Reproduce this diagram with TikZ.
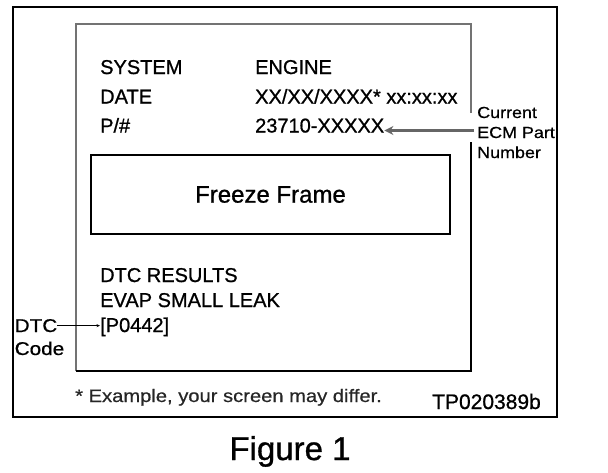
\documentclass[tikz,border=0pt]{standalone}
\usepackage{fontspec}
\setmainfont[FakeBold=0.9]{Liberation Sans}
\newfontfamily\widefont[FakeStretch=1.12,FakeBold=0.6]{Liberation Sans}
\usetikzlibrary{arrows.meta}
\tikzset{
  txt/.style={anchor=base west, inner sep=0pt, font=\fontsize{20}{24}\selectfont},
  lbl/.style={anchor=base west, inner sep=0pt, font=\widefont\fontsize{16}{19}\selectfont},
  sidelbl/.style={anchor=base west, inner sep=0pt, font=\widefont\fontsize{18.5}{22}\selectfont},
  frame/.style={draw=black, line width=2.2pt},
  thinedge/.style={draw=black!55, line width=1.1pt},
  thickedge/.style={draw=black, line width=2.4pt},
  pointer/.style={draw=black!60, line width=2.6pt, -{Stealth[length=9pt,width=9pt]}},
  leader/.style={draw=black, line width=0.6pt, -{Stealth[length=3.5pt,width=3pt]}}
}
\begin{document}
\begin{tikzpicture}[x=1pt,y=-1pt]
\useasboundingbox (0,0) rectangle (608,472);
% outer frame
\draw[frame] (12.7,7) rectangle (557,417);
% inner screen
\draw[thinedge] (471,113) -- (471,24) -- (76,24) -- (76,371);
\draw[thickedge] (76,371) -- (471,371) -- (471,142);
% rows
\node[txt] (sys) at (100,74) {SYSTEM};
\node[txt] (eng) at (255,74) {ENGINE};
\node[txt] (date) at (100,103.5) {DATE};
\node[txt] (dval) at (255,103.5) {XX/XX/XXXX* xx:xx:xx};
\node[txt] (pnl) at (100,132.5) {P/\#};
\node[txt] (pn) at (255,132.5) {23710-XXXXX};
% freeze frame box
\node[draw=black, line width=2.3pt, minimum width=359pt, minimum height=79pt,
      inner sep=0pt, font=\fontsize{24}{28}\selectfont] (ff) at (270.5,194.5) {Freeze Frame};
% DTC results
\node[txt] (dtcr) at (100,282) {DTC RESULTS};
\node[txt] (evap) at (100,307) {EVAP SMALL LEAK};
\node[txt] (code) at (100,332) {[P0442]};
% right label
\node[lbl] (cur) at (477,118) {Current};
\node[lbl] (ecm) at (477,138) {ECM Part};
\node[lbl] (num) at (477,158) {Number};
\coordinate (astart) at (474,130.5);
\draw[pointer] (astart) -- (astart -| pn.east);
% left label
\node[sidelbl] (dtcl) at (14.5,332) {DTC};
\node[sidelbl] (codel) at (14.5,355) {Code};
\draw[leader] (dtcl.east) -- (dtcl.east -| code.west);
% footer
\node[lbl, text=black!85, font=\widefont\fontsize{18}{21}\selectfont] (ex) at (75,402) {* Example, your screen may differ.};
\node[txt, font=\fontsize{21}{25}\selectfont] (tp) at (432,409) {TP020389b};
\node[anchor=base, inner sep=0pt, font=\fontsize{33}{38}\selectfont] (fig) at (290,460) {Figure 1};
\end{tikzpicture}
\end{document}
